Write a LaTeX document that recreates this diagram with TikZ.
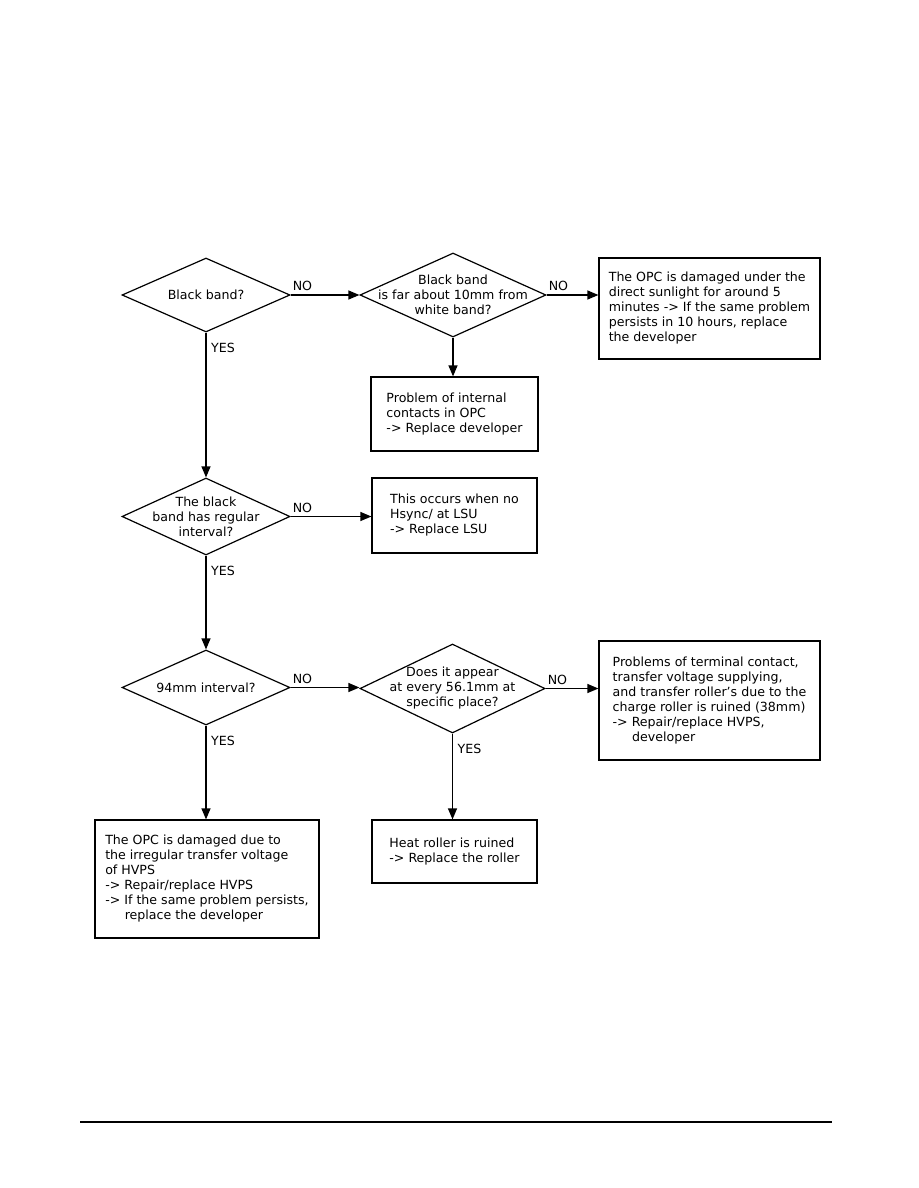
\documentclass[tikz,border=0pt]{standalone}
\usepackage{fontspec}
\setmainfont{DejaVu Sans}
\usetikzlibrary{arrows.meta, positioning, shapes.geometric}
\newcommand{\chartfont}{\fontsize{12.6}{15}\selectfont}
\tikzset{
  >={Triangle[length=11pt, width=9pt]},
  decision/.style={diamond, draw, line width=1.2pt, inner sep=0pt},
  dtext/.style={align=center, font=\chartfont, inner sep=0pt},
  box/.style={rectangle, draw, line width=1.2pt, align=left, inner xsep=6pt, font=\chartfont},
  flow/.style={->, line width=1.2pt},
  lbl/.style={font=\chartfont, inner sep=1pt},
}

\begin{document}
\begin{tikzpicture}[x=1pt, y=-1pt]
  \useasboundingbox (0,0) rectangle (918,1188);
  % decisions
  \node[decision, minimum width=168pt, minimum height=74pt] (black) at (206,295) {};
  \node[dtext] (blackt) at (black) {Black band?};
  \node[decision, minimum width=186pt, minimum height=84pt] (far) at (453,295) {};
  \node[dtext] (fart) at (far) {Black band\\is far about 10mm from\\white band?};
  \node[decision, minimum width=168pt, minimum height=77pt] (regular) at (206,516.5) {};
  \node[dtext] (regulart) at (regular) {The black\\band has regular\\interval?};
  \node[decision, minimum width=168pt, minimum height=75pt] (ninetyfour) at (206,687.5) {};
  \node[dtext] (ninetyfourt) at (ninetyfour) {94mm interval?};
  \node[decision, minimum width=185pt, minimum height=89pt] (every) at (452.5,688.5) {};
  \node[dtext] (everyt) at (every) {Does it appear\\at every 56.1mm at\\specific place?};
  % results
  \node[box, minimum width=221pt, minimum height=101pt] (sun) at (709.5,308.5)
    {The OPC is damaged under the\\direct sunlight for around 5\\minutes -> If the same problem\\persists in 10 hours, replace\\the developer};
  \node[box, minimum width=167pt, minimum height=74pt] (internal) at (454.5,414)
    {Problem of internal\\contacts in OPC\\-> Replace developer};
  \node[box, minimum width=165pt, minimum height=75pt] (hsync) at (454.5,515.5)
    {This occurs when no\\Hsync/ at LSU\\-> Replace LSU};
  \node[box, minimum width=221pt, minimum height=119pt] (terminal) at (709.5,700.5)
    {Problems of terminal contact,\\transfer voltage supplying,\\and transfer roller's due to the\\charge roller is ruined (38mm)\\-> Repair/replace HVPS,\\\hspace*{1.55em}developer};
  \node[box, minimum width=224pt, minimum height=118pt] (hvps) at (207,879)
    {The OPC is damaged due to\\the irregular transfer voltage\\of HVPS\\-> Repair/replace HVPS\\-> If the same problem persists,\\\hspace*{1.55em}replace the developer};
  \node[box, minimum width=165pt, minimum height=63pt] (heat) at (454.5,851.5)
    {Heat roller is ruined\\-> Replace the roller};
  % connectors
  \draw[flow] (black.east) -- (far.west);
  \draw[flow] (far.east) -- (far.east -| sun.west);
  \draw[flow] (far.south) -- (far.south |- internal.north);
  \draw[flow] (black.south) -- (regular.north);
  \draw[flow] (regular.east) -- (regular.east -| hsync.west);
  \draw[flow] (regular.south) -- (ninetyfour.north);
  \draw[flow] (ninetyfour.east) -- (ninetyfour.east -| every.west);
  \draw[flow] (every.east) -- (every.east -| terminal.west);
  \draw[flow] (ninetyfour.south) -- (ninetyfour.south |- hvps.north);
  \draw[flow] (every.south) -- (every.south |- heat.north);
  % labels
  \node[lbl, above right=3pt and 1pt of black.east] (no1) {NO};
  \node[lbl, above right=3pt and 1pt of far.east] (no2) {NO};
  \node[lbl, above right=3pt and 1pt of regular.east] (no3) {NO};
  \node[lbl, above right=3pt and 1pt of ninetyfour.east] (no4) {NO};
  \node[lbl, above right=3pt and 1pt of every.east] (no5) {NO};
  \node[lbl, below right=9pt and 4pt of black.south] (yes1) {YES};
  \node[lbl, below right=9pt and 4pt of regular.south] (yes2) {YES};
  \node[lbl, below right=9pt and 4pt of ninetyfour.south] (yes3) {YES};
  \node[lbl, below right=9pt and 4pt of every.south] (yes4) {YES};
  % footer rule
  \coordinate (footl) at (80,1122);
  \coordinate (footr) at (832,1122);
  \draw[line width=1.5pt] (footl) -- (footr);
\end{tikzpicture}
\end{document}
